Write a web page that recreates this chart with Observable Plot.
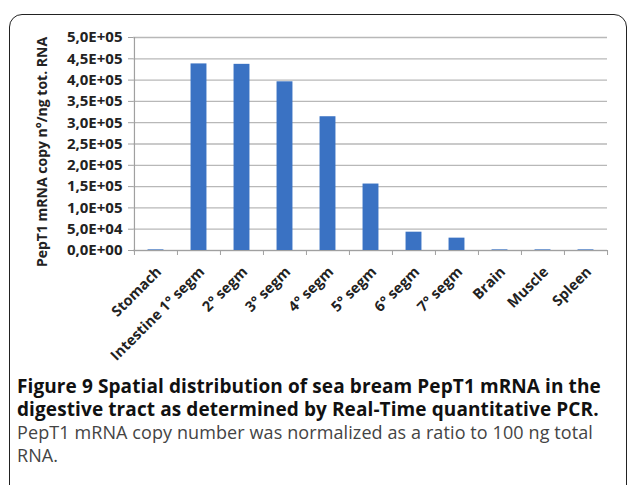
<!DOCTYPE html>
<html>
<head>
<meta charset="utf-8">
<script src="https://cdn.jsdelivr.net/npm/d3@7"></script>
<script src="https://cdn.jsdelivr.net/npm/@observablehq/plot@0.6"></script>
<style>
  html, body { margin: 0; padding: 0; background: #fff; width: 627px; height: 485px; overflow: hidden; }
  #frame { position: absolute; left: 9px; top: 14px; width: 618px; height: 520px; border: 1.6px solid #222; border-radius: 13px; box-sizing: border-box; }
  #chart { position: absolute; left: 0; top: 0; }
  #caption { position: absolute; left: 17px; top: 375px; width: 605px; font-family: "Open Sans", sans-serif; }
  #caption .t { font-weight: 700; font-size: 19px; line-height: 22.5px; color: #111; letter-spacing: 0.1px; }
  #caption .d { font-weight: 400; font-size: 18px; line-height: 22.5px; color: #444; margin-top: 1px; letter-spacing: 0.1px; }
</style>
</head>
<body>
<div id="frame"></div>
<div id="chart"></div>
<div id="caption">
  <div class="t">Figure 9 Spatial distribution of sea bream PepT1 mRNA in the digestive tract as determined by Real-Time quantitative PCR.</div>
  <div class="d">PepT1 mRNA copy number was normalized as a ratio to 100 ng total RNA.</div>
</div>
<script>
const tissues = ["Stomach", "Intestine 1° segm", "2° segm", "3° segm", "4° segm", "5° segm", "6° segm", "7° segm", "Brain", "Muscle", "Spleen"];
const copies = [1500, 438000, 437000, 396000, 314000, 156000, 43000, 29000, 1500, 1500, 1500];
const yTicks = [0, 50000, 100000, 150000, 200000, 250000, 300000, 350000, 400000, 450000, 500000];
const yLabel = "PepT1 mRNA copy n°/ng tot. RNA";

const data = tissues.map((t, i) => ({tissue: t, value: copies[i]}));

const W = 627, H = 372, ML = 133, MR = 20, MT = 37, MB = H - 250;
const bw = (W - ML - MR) / tissues.length;
const barInset = (bw - 16) / 2;

const fmt = v => {
  const [m, e] = v.toExponential(1).split("e");
  return m.replace(".", ",") + "E" + e[0] + e.slice(1).padStart(2, "0");
};

const chart = Plot.plot({
  width: W, height: H,
  marginLeft: ML, marginRight: MR, marginTop: MT, marginBottom: MB,
  style: {fontFamily: "'Open Sans', sans-serif", background: "transparent"},
  x: {domain: tissues, padding: 0},
  y: {domain: [0, 500000]},
  marks: [
    Plot.gridY(yTicks, {stroke: "#b8b8b8", strokeOpacity: 1, strokeWidth: 1.3}),
    Plot.barY(data, {x: "tissue", y: "value", fill: "#3a72c3", insetLeft: barInset, insetRight: barInset}),
    Plot.ruleY([0], {stroke: "#a0a0a0", strokeWidth: 1.2}),
    Plot.ruleX([tissues[0]], {dx: -bw / 2, stroke: "#a0a0a0", strokeWidth: 1.2}),
    Plot.axisY({ticks: yTicks, tickFormat: fmt, tickSize: 5, tickPadding: 6, stroke: "#a0a0a0", fontSize: 15, fontWeight: "bold", fill: "#222", label: null}),
    Plot.axisX({tickSize: 5, dx: -bw / 2, tickFormat: () => "", stroke: "#a0a0a0", label: null}),
    Plot.axisX([tissues[tissues.length - 1]], {tickSize: 5, dx: bw / 2, tickFormat: () => "", stroke: "#a0a0a0", label: null}),
    Plot.axisX({tickSize: 0, tickRotate: -45, tickPadding: 19, dx: 3, fontSize: 14.5, fontWeight: "bold", fill: "#222", label: null}),
    Plot.text([yLabel], {frameAnchor: "left", textAnchor: "middle", rotate: -90, dx: -91, dy: 8, fontSize: 14, fontWeight: "bold", fill: "#222"})
  ]
});
document.getElementById("chart").appendChild(chart);
</script>
</body>
</html>
